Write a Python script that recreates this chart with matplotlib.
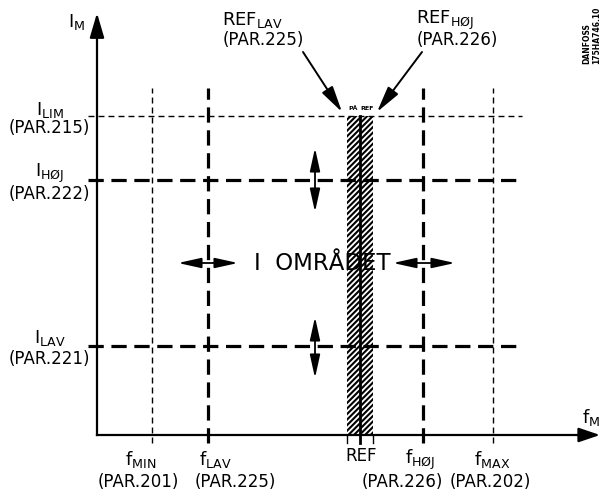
import matplotlib
matplotlib.use("Agg")
import matplotlib.pyplot as plt
from matplotlib.patches import Rectangle

plt.rcParams['mathtext.default'] = 'regular'
plt.rcParams['font.family'] = ['DejaVu Sans']
plt.rcParams['lines.scale_dashes'] = False
plt.rcParams['hatch.linewidth'] = 1.5

# frequency markers along f_M
freq_names = ['f$_{MIN}$', 'f$_{LAV}$', 'REF', 'f$_{HØJ}$', 'f$_{MAX}$']
freq_pars = ['(PAR.201)', '(PAR.225)', '', '(PAR.226)', '(PAR.202)']
freq_vals = [55, 111, 263, 326, 396]

# current levels along I_M
cur_names = ['I$_{LIM}$', 'I$_{HØJ}$', 'I$_{LAV}$']
cur_pars = ['(PAR.215)', '(PAR.222)', '(PAR.221)']
cur_vals = [319, 255, 89]

# reference band (REF_LAV .. REF_HØJ)
ref_band = [250, 276]

fig = plt.figure(figsize=(6.01, 4.92), dpi=100)
ax = fig.add_axes([0, 0, 1, 1])
ax.set_xlim(-97, 504)
ax.set_ylim(-57, 435)
ax.axis('off')

thin = dict(color='k', lw=1.0, dashes=(4.3, 2.9))
thick = dict(color='k', lw=2.3, dashes=(11, 5.5))

# vertical frequency lines
for i, f in enumerate(freq_vals):
    if freq_names[i] == 'REF':
        ax.plot([f, f], [-8, cur_vals[0]], color='k', lw=2.0, zorder=4)
        continue
    st = thin if freq_names[i] in ('f$_{MIN}$', 'f$_{MAX}$') else thick
    ax.plot([f, f], [-8, 347], **st)

# horizontal current lines
for i, c in enumerate(cur_vals):
    st = thin if i == 0 else thick
    ax.plot([-9, 425], [c, c], **st)

# hatched reference band
ax.add_patch(Rectangle((ref_band[0], 0), ref_band[1] - ref_band[0], cur_vals[0],
                       facecolor='none', edgecolor='k', hatch='//////', lw=0, zorder=3))
for x in ref_band:
    ax.plot([x, x], [0, -8], color='k', lw=1.0)

# axes with arrows
ax.plot([0, 0], [0, 405], color='k', lw=1.6, zorder=5)
ax.plot([0, 485], [0, 0], color='k', lw=1.6, zorder=5)
ax.annotate('', xy=(0, 422), xytext=(0, 400),
            arrowprops=dict(arrowstyle='-|>,head_length=0.75,head_width=0.22',
                            mutation_scale=20, color='k', lw=1.6,
                            shrinkA=0, shrinkB=0))
ax.annotate('', xy=(503, 0), xytext=(480, 0),
            arrowprops=dict(arrowstyle='-|>,head_length=0.65,head_width=0.22',
                            mutation_scale=20, color='k', lw=1.6,
                            shrinkA=0, shrinkB=0))
ax.text(-20, 413, 'I$_M$', fontsize=13, ha='center', va='center')
ax.text(494, 17, 'f$_M$', fontsize=13, ha='center', va='center')

# labels on the current axis
cur_y_name = [325, 262, 97]
cur_y_par = [307, 241, 76]
for i in range(len(cur_vals)):
    ax.text(-47, cur_y_name[i], cur_names[i], fontsize=13, ha='center', va='center')
    ax.text(-48, cur_y_par[i], cur_pars[i], fontsize=12, ha='center', va='center')

# labels on the frequency axis
freq_x_name = [44, 118, 264, 323, 395]
freq_x_par = [41, 138, 0, 305, 393]
for i in range(len(freq_vals)):
    if freq_names[i] == 'REF':
        ax.text(freq_x_name[i], -21, 'REF', fontsize=12, ha='center', va='center')
        continue
    ax.text(freq_x_name[i], -25, freq_names[i], fontsize=13, ha='center', va='center')
    ax.text(freq_x_par[i], -47, freq_pars[i], fontsize=12, ha='center', va='center')

# REF_LAV / REF_HØJ callouts
head = dict(arrowstyle='-|>,head_length=1.0,head_width=0.24', mutation_scale=16,
            color='k', lw=1.4, shrinkA=0, shrinkB=0)
ax.text(155, 415, 'REF$_{LAV}$', fontsize=13, ha='center', va='center')
ax.text(166, 395, '(PAR.225)', fontsize=12, ha='center', va='center')
ax.annotate('', xy=(245, 323), xytext=(206, 383), arrowprops=head)
ax.text(348, 415, 'REF$_{HØJ}$', fontsize=13, ha='center', va='center')
ax.text(360, 395, '(PAR.226)', fontsize=12, ha='center', va='center')
ax.annotate('', xy=(280, 323), xytext=(325, 383), arrowprops=head)
ax.text(256, 326, 'PÅ', fontsize=4.5, ha='center', va='center', weight='bold')
ax.text(270, 326, 'REF', fontsize=4.5, ha='center', va='center', weight='bold')

# operating range
ax.text(225, 172, 'I  OMRÅDET', fontsize=16.5, ha='center', va='center', zorder=2)
dbl = dict(arrowstyle='<|-|>,head_length=1.0,head_width=0.22', mutation_scale=14,
           color='k', lw=1.3, shrinkA=0, shrinkB=0)
ax.annotate('', xy=(81, 172), xytext=(141, 172), arrowprops=dbl)
ax.annotate('', xy=(296, 172), xytext=(358, 172), arrowprops=dbl)
ax.annotate('', xy=(218, 287), xytext=(218, 223), arrowprops=dbl)
ax.annotate('', xy=(218, 118), xytext=(218, 57), arrowprops=dbl)

# drawing id
ax.text(485, 400, 'DANFOSS\n175HA746.10', fontsize=5.5, rotation=90, weight='bold',
        ha='left', va='center', linespacing=1.1)

fig.savefig('out.png', dpi=100)
